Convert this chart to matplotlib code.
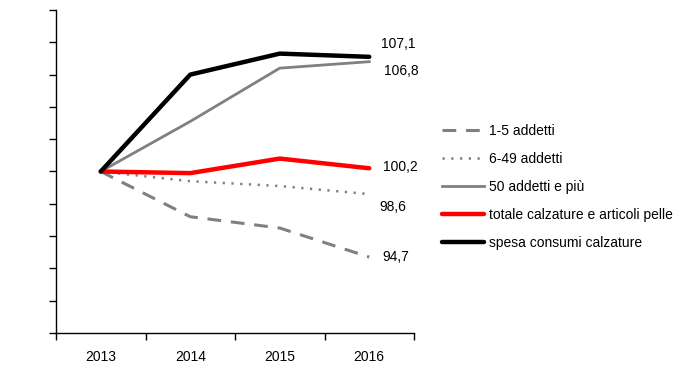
import matplotlib
matplotlib.use("Agg")
import matplotlib.pyplot as plt

plt.rcParams['font.family'] = ['Liberation Sans', 'DejaVu Sans']

years = ["2013", "2014", "2015", "2016"]
s_1_5 = [100.0, 97.2, 96.5, 94.7]
s_6_49 = [100.0, 99.4, 99.1, 98.6]
s_50 = [100.0, 103.1, 106.4, 106.8]
s_tot = [100.0, 99.9, 100.8, 100.2]
s_spesa = [100.0, 106.0, 107.3, 107.1]
labels = ["1-5 addetti", "6-49 addetti", "50 addetti e più",
          "totale calzature e articoli pelle", "spesa consumi calzature"]
end_labels = ["94,7", "98,6", "106,8", "100,2", "107,1"]

fig = plt.figure(figsize=(7.0, 3.74), dpi=100)
ax = fig.add_axes([56/700, 1-333/374, (414-56)/700, (333-10)/374])

x = list(range(len(years)))
gray = "#808080"
l1, = ax.plot(x, s_1_5, color=gray, lw=2.2, linestyle=(0, (4.5, 3.2)), label=labels[0])
l2, = ax.plot(x, s_6_49, color=gray, lw=1.8, linestyle=(0, (0.9, 2.6)), label=labels[1])
l3, = ax.plot(x, s_50, color=gray, lw=2.0, label=labels[2])
l4, = ax.plot(x, s_tot, color="#ff0000", lw=3.2, label=labels[3], solid_capstyle='round')
l5, = ax.plot(x, s_spesa, color="black", lw=3.2, label=labels[4], solid_capstyle='round')

ax.set_xlim(-0.5, 3.5)
ax.set_ylim(90, 110)
ax.set_yticks(range(90, 111, 2))
ax.set_yticklabels([])
ax.set_xticks([i for i in x])
ax.set_xticklabels(years, fontsize=10)
ax.set_xticks([i - 0.5 for i in range(len(years) + 1)], minor=True)
ax.tick_params(axis='x', which='major', length=0, pad=12)
ax.tick_params(axis='x', which='minor', length=5, width=1, direction='out')
ax.tick_params(axis='y', length=5, width=1, direction='out')
for sp in ['top', 'right']:
    ax.spines[sp].set_visible(False)
for sp in ['left', 'bottom']:
    ax.spines[sp].set_linewidth(1)

# end-of-line value labels (offsets in pixels)
offsets = {"94,7": (13, 0), "98,6": (10, -13), "106,8": (15, -9), "100,2": (14, 1), "107,1": (12, 13)}
vals = [s_1_5[-1], s_6_49[-1], s_50[-1], s_tot[-1], s_spesa[-1]]
for v, t in zip(vals, end_labels):
    dx, dy = offsets[t]
    ax.annotate(t, xy=(3, v), xytext=(dx, dy), textcoords='offset pixels',
                ha='left', va='center', fontsize=10)

fig.legend(handles=[l1, l2, l3, l4, l5], loc='center left',
           bbox_to_anchor=(442/700, 1-187/374), frameon=False, fontsize=10,
           handlelength=3.0, handletextpad=0.4, labelspacing=1.0, borderpad=0,
           borderaxespad=0)

fig.savefig("out.png", dpi=100)
